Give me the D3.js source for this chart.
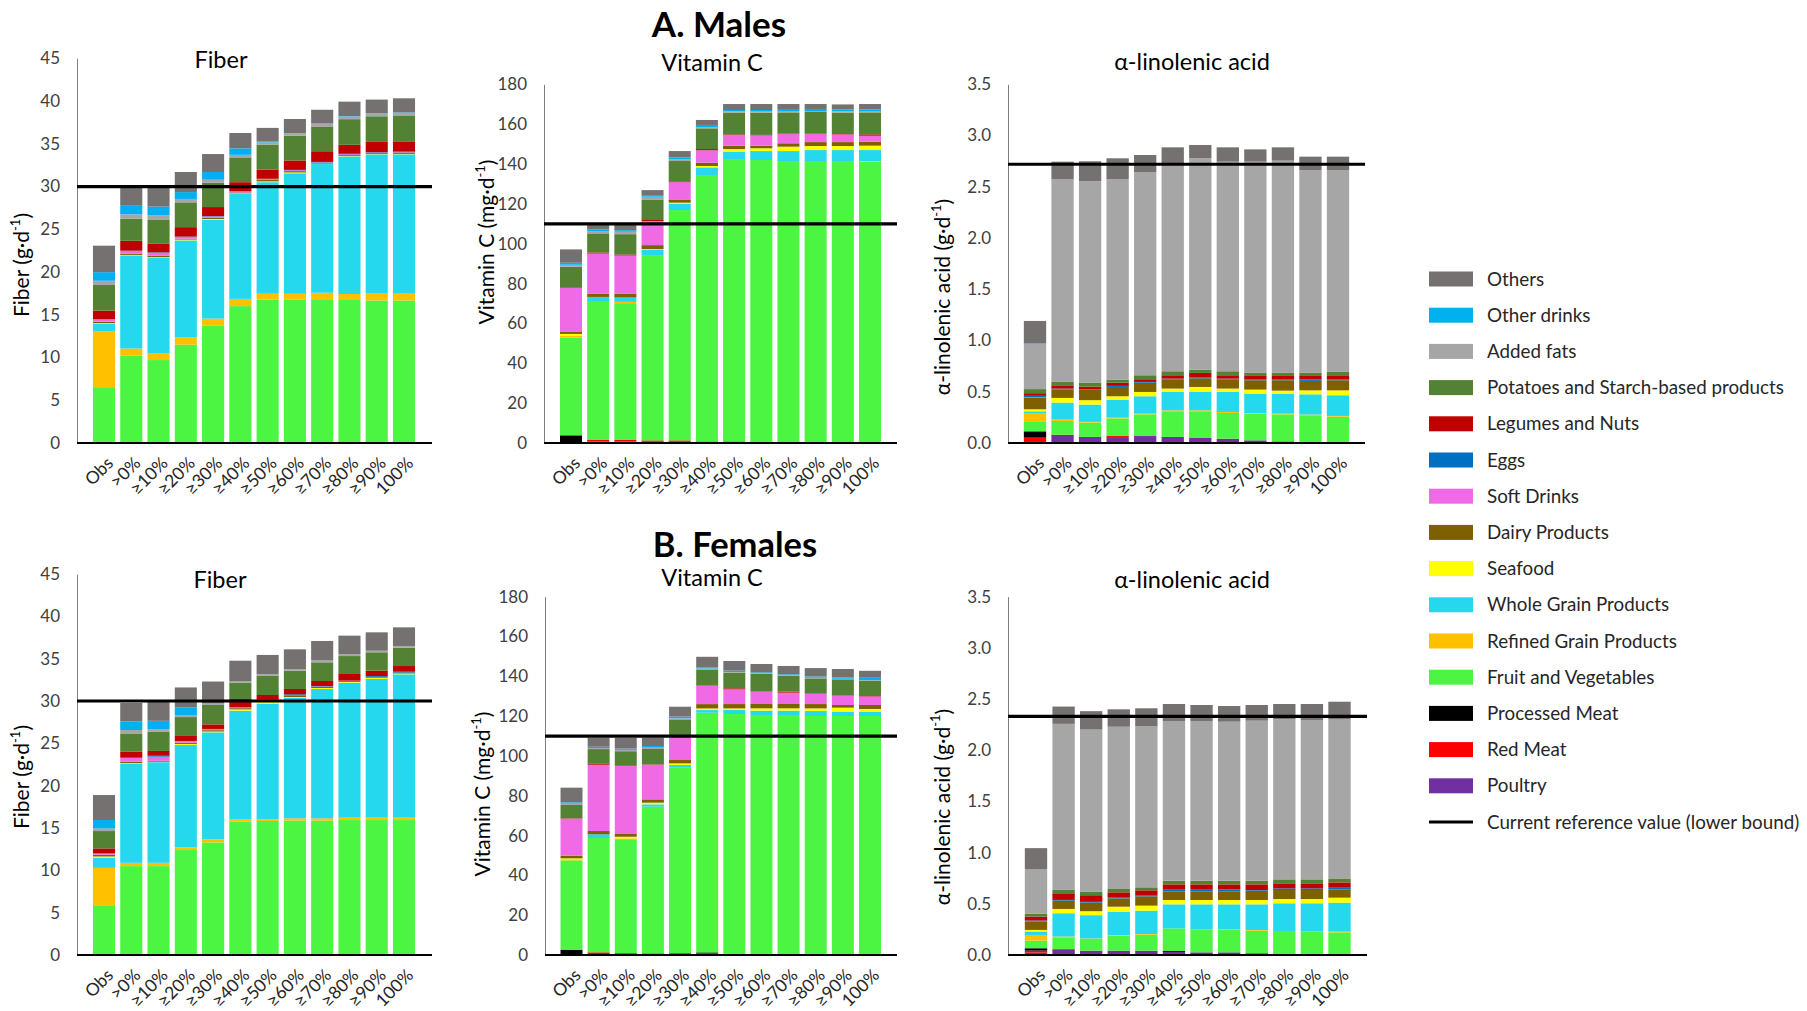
<!DOCTYPE html>
<html>
<head>
<meta charset="utf-8">
<script src="https://cdn.jsdelivr.net/npm/d3@7"></script>
<style>
  html, body { margin: 0; padding: 0; background: #fff; }
  svg { display: block; font-family: Lato, "Open Sans", sans-serif; }
</style>
</head>
<body>
<svg id="chart" width="1807" height="1011"></svg>
<script>
// ---------------- DATA ----------------
const groups = ["Obs", ">0%", "≥10%", "≥20%", "≥30%", "≥40%", "≥50%", "≥60%", "≥70%", "≥80%", "≥90%", "100%"];

// stacking order: bottom -> top
const categories = ["Poultry", "Red Meat", "Processed Meat", "Fruit and Vegetables", "Refined Grain Products",
  "Whole Grain Products", "Seafood", "Dairy Products", "Soft Drinks", "Eggs", "Legumes and Nuts",
  "Potatoes and Starch-based products", "Added fats", "Other drinks", "Others"];

const categoryColors = ["#7030A0", "#FF0000", "#000000", "#4CF542", "#FFC000",
  "#25D8EE", "#FFFF00", "#7F6000", "#F06AE6", "#0070C0", "#C00000",
  "#548235", "#A6A6A6", "#00B0F0", "#767171"];

// legend order (top -> bottom)
const legendOrder = ["Others", "Other drinks", "Added fats", "Potatoes and Starch-based products", "Legumes and Nuts",
  "Eggs", "Soft Drinks", "Dairy Products", "Seafood", "Whole Grain Products", "Refined Grain Products",
  "Fruit and Vegetables", "Processed Meat", "Red Meat", "Poultry"];
const refLegendLabel = "Current reference value (lower bound)";

const fiberTicks = [0, 5, 10, 15, 20, 25, 30, 35, 40, 45];
const vitcTicks = [0, 20, 40, 60, 80, 100, 120, 140, 160, 180];
const alaTicks = [0, 0.5, 1.0, 1.5, 2.0, 2.5, 3.0, 3.5];

const refFiber = 30, refVitC = 110, refAlaMale = 2.72, refAlaFemale = 2.33;

// rows follow `categories`, columns follow `groups`
const maleFiber = [
  [0, 0.03, 0.03, 0.03, 0.03, 0.02, 0.02, 0.02, 0.01, 0.01, 0, 0],
  [0.03, 0.05, 0.05, 0.05, 0.05, 0.03, 0.03, 0.02, 0.02, 0.02, 0.02, 0.02],
  [0.1, 0.02, 0.02, 0.02, 0.02, 0.01, 0.01, 0.01, 0, 0, 0, 0],
  [6.4, 10.1, 9.6, 11.4, 13.6, 15.95, 16.7, 16.7, 16.7, 16.7, 16.65, 16.65],
  [6.55, 0.85, 0.8, 0.85, 0.85, 0.85, 0.7, 0.7, 0.85, 0.7, 0.8, 0.8],
  [0.9, 10.9, 11.2, 11.35, 11.55, 12.3, 13.05, 14.1, 15.05, 16.1, 16.3, 16.3],
  [0.05, 0.05, 0.05, 0.1, 0.1, 0.05, 0.1, 0.1, 0.05, 0.05, 0.05, 0.05],
  [0.15, 0.15, 0.15, 0.1, 0.15, 0.1, 0.15, 0.15, 0.1, 0.1, 0.1, 0.15],
  [0.3, 0.3, 0.35, 0.2, 0.15, 0.1, 0.1, 0.1, 0.05, 0.1, 0.05, 0.05],
  [0, 0.05, 0.05, 0.05, 0.05, 0.05, 0.05, 0.05, 0.05, 0.05, 0.05, 0.1],
  [1.0, 1.15, 1.05, 1.1, 1.05, 1.05, 1.05, 1.1, 1.25, 1.05, 1.2, 1.1],
  [3.0, 2.6, 2.8, 2.9, 2.85, 2.9, 2.95, 2.9, 2.9, 3.0, 3.0, 3.1],
  [0.5, 0.5, 0.5, 0.4, 0.35, 0.3, 0.25, 0.25, 0.3, 0.3, 0.3, 0.3],
  [1.0, 1.0, 1.0, 0.8, 0.9, 0.75, 0.1, 0.05, 0.05, 0.05, 0.05, 0.05],
  [3.1, 2.15, 2.25, 2.35, 2.1, 1.8, 1.6, 1.65, 1.6, 1.7, 1.6, 1.65]
];

const maleVitC = [
  [0, 0.8, 0.8, 0.6, 0.6, 0.4, 0.2, 0, 0, 0, 0, 0],
  [0, 0.9, 0.9, 0.7, 0.7, 0.4, 0.6, 0, 0, 0, 0, 0],
  [3.85, 0, 0, 0, 0, 0, 0, 0, 0, 0, 0, 0],
  [49.1, 69.1, 68.5, 93.0, 115.6, 133.7, 141.7, 142.0, 141.5, 141.5, 141.5, 141.2],
  [0.8, 0, 0.6, 0, 0, 0, 0, 0, 0, 0, 0, 0.3],
  [0, 2.5, 2.2, 2.7, 3.2, 3.8, 3.7, 4.5, 5.0, 5.5, 5.5, 5.5],
  [1.0, 0, 0, 0.3, 0.5, 0.7, 1.3, 1.4, 2.2, 2.0, 2.0, 2.2],
  [1.2, 1.7, 2.0, 2.0, 1.6, 1.7, 1.7, 1.3, 1.7, 2.0, 2.0, 2.0],
  [22.0, 20.1, 19.1, 12.1, 8.7, 6.2, 5.4, 5.2, 4.6, 4.0, 3.8, 3.0],
  [0, 0, 0, 0, 0, 0, 0, 0, 0, 0, 0, 0],
  [0.3, 0.5, 0.5, 0.5, 0.4, 0.6, 0.3, 0.2, 0.2, 0.2, 0.2, 0.7],
  [10.2, 9.6, 10.2, 10.3, 10.2, 10.4, 10.9, 11.2, 10.7, 10.9, 10.8, 11.0],
  [1.0, 1.1, 1.2, 1.4, 0.8, 0.5, 0.6, 0.8, 0.7, 0.5, 0.6, 0.7],
  [1.0, 0.9, 0.8, 0.8, 1.0, 1.2, 0.7, 0.5, 1.0, 1.0, 1.0, 0.8],
  [6.7, 2.3, 2.7, 2.5, 3.2, 2.5, 3.0, 3.0, 2.5, 2.5, 2.5, 2.7]
];

const maleAla = [
  [0.01, 0.068, 0.059, 0.058, 0.068, 0.059, 0.049, 0.042, 0.026, 0.016, 0, 0],
  [0.042, 0.013, 0, 0.01, 0, 0, 0, 0, 0, 0, 0, 0],
  [0.062, 0, 0, 0, 0, 0, 0, 0, 0, 0, 0, 0],
  [0.098, 0.134, 0.14, 0.172, 0.212, 0.244, 0.254, 0.251, 0.26, 0.264, 0.264, 0.257],
  [0.075, 0.013, 0.007, 0.007, 0.007, 0.016, 0.016, 0.01, 0.007, 0.007, 0.013, 0.007],
  [0.022, 0.166, 0.169, 0.176, 0.169, 0.179, 0.179, 0.195, 0.189, 0.195, 0.198, 0.202],
  [0.02, 0.046, 0.043, 0.033, 0.042, 0.033, 0.049, 0.033, 0.039, 0.029, 0.039, 0.048],
  [0.11, 0.081, 0.1, 0.091, 0.09, 0.087, 0.084, 0.087, 0.091, 0.101, 0.092, 0.098],
  [0.005, 0, 0, 0, 0, 0, 0, 0, 0, 0, 0, 0],
  [0.016, 0.01, 0.007, 0.01, 0.008, 0.01, 0.007, 0.01, 0.007, 0.007, 0.013, 0.007],
  [0.026, 0.032, 0.026, 0.032, 0.026, 0.033, 0.046, 0.033, 0.035, 0.035, 0.035, 0.035],
  [0.04, 0.033, 0.039, 0.03, 0.039, 0.039, 0.032, 0.039, 0.03, 0.03, 0.03, 0.04],
  [0.44, 1.976, 1.964, 1.957, 1.98, 2.03, 2.062, 2.045, 2.061, 2.071, 1.98, 1.97],
  [0.005, 0, 0, 0, 0, 0, 0, 0, 0, 0, 0, 0],
  [0.22, 0.173, 0.195, 0.202, 0.169, 0.155, 0.13, 0.14, 0.12, 0.13, 0.13, 0.13]
];

const femaleFiber = [
  [0, 0.03, 0.02, 0.02, 0.02, 0.02, 0.02, 0.02, 0.01, 0.01, 0, 0],
  [0.05, 0.07, 0.03, 0.03, 0.03, 0.02, 0.02, 0.02, 0.02, 0.01, 0.01, 0.01],
  [0.05, 0, 0, 0, 0, 0, 0, 0, 0, 0, 0, 0],
  [5.69, 10.4, 10.45, 12.35, 13.25, 15.71, 15.79, 15.83, 15.84, 15.92, 15.93, 15.93],
  [4.5, 0.39, 0.39, 0.32, 0.36, 0.27, 0.2, 0.27, 0.27, 0.28, 0.28, 0.28],
  [1.2, 11.74, 11.89, 12.08, 12.64, 12.84, 13.63, 14.25, 15.28, 15.95, 16.38, 16.93],
  [0.15, 0.05, 0.05, 0.13, 0.1, 0.15, 0.25, 0.08, 0.12, 0.08, 0.15, 0.1],
  [0.2, 0.14, 0.1, 0.15, 0.15, 0.14, 0.2, 0.12, 0.13, 0.1, 0.1, 0.11],
  [0.15, 0.48, 0.5, 0.2, 0.15, 0.1, 0, 0.04, 0.05, 0.05, 0, 0],
  [0, 0, 0.1, 0, 0, 0, 0.1, 0.16, 0.05, 0, 0.1, 0.1],
  [0.6, 0.7, 0.57, 0.59, 0.54, 0.99, 0.5, 0.63, 0.59, 0.79, 0.63, 0.67],
  [2.05, 2.17, 2.26, 2.23, 2.29, 1.93, 2.25, 2.16, 2.21, 2.12, 2.17, 2.17],
  [0.3, 0.4, 0.3, 0.25, 0.17, 0.19, 0.2, 0.2, 0.27, 0.2, 0.19, 0.2],
  [1.0, 1.0, 1.0, 0.9, 0, 0, 0, 0, 0, 0, 0, 0],
  [2.95, 2.2, 2.34, 2.35, 2.6, 2.4, 2.28, 2.32, 2.25, 2.21, 2.17, 2.2]
];

const femaleVitC = [
  [0, 0.5, 0.3, 0, 0, 0.8, 0, 0.5, 0, 0, 0, 0],
  [0, 0.84, 0, 0.84, 0, 0, 0.3, 0, 0, 0, 0, 0],
  [2.51, 0, 0.54, 0, 0.84, 0.5, 0, 0, 0, 0, 0, 0],
  [45.05, 57.43, 56.93, 73.67, 93.26, 120.4, 120.76, 120.06, 120.56, 120.06, 120.06, 120.06],
  [0.5, 0, 0.8, 0, 0, 0, 0, 0, 0, 0, 0, 0],
  [0, 1.84, 0, 1.17, 1.34, 1.34, 2.0, 2.2, 2.2, 2.5, 2.2, 2.2],
  [0.5, 0, 0.84, 0.84, 0.84, 0.84, 0.84, 1.17, 1.17, 1.34, 2.0, 1.34],
  [1.34, 1.67, 1.67, 1.67, 1.67, 2.17, 2.17, 2.17, 2.17, 2.17, 1.34, 2.0],
  [18.55, 33.3, 34.0, 17.4, 11.5, 9.2, 7.4, 6.3, 5.7, 5.1, 4.6, 4.3],
  [0, 0, 0, 0, 0, 0, 0, 0, 0, 0, 0, 0],
  [0.2, 0.67, 0.3, 0.2, 0.2, 0.2, 0.5, 0.2, 0.5, 0.2, 0.2, 0.2],
  [6.7, 7.2, 7.0, 7.7, 8.4, 8.0, 7.9, 8.6, 7.9, 7.6, 8.1, 7.7],
  [0.67, 0.5, 0.67, 0.67, 0.84, 0.5, 0.3, 0.3, 0.3, 0.3, 0.3, 0.3],
  [0.67, 0.67, 0.67, 0.84, 0.84, 0.5, 0.67, 0.5, 0.5, 0.67, 0.67, 1.17],
  [7.37, 4.55, 5.4, 4.2, 5.0, 5.36, 4.86, 4.2, 4.2, 4.2, 4.2, 3.5]
];

const femaleAla = [
  [0.023, 0.052, 0.042, 0.042, 0.042, 0.03, 0.026, 0.026, 0, 0, 0, 0],
  [0.02, 0.007, 0, 0, 0, 0, 0, 0, 0, 0, 0, 0],
  [0.023, 0, 0, 0, 0, 0.009, 0, 0, 0.016, 0, 0, 0],
  [0.075, 0.114, 0.114, 0.146, 0.156, 0.221, 0.225, 0.218, 0.221, 0.234, 0.228, 0.221],
  [0.055, 0.007, 0.005, 0.007, 0.007, 0, 0, 0.007, 0.007, 0, 0, 0.007],
  [0.033, 0.228, 0.228, 0.228, 0.228, 0.235, 0.244, 0.244, 0.251, 0.271, 0.277, 0.283],
  [0.016, 0.042, 0.039, 0.049, 0.049, 0.042, 0.042, 0.042, 0.042, 0.042, 0.042, 0.049],
  [0.082, 0.081, 0.084, 0.081, 0.091, 0.082, 0.082, 0.085, 0.091, 0.088, 0.088, 0.081],
  [0, 0, 0, 0, 0, 0, 0, 0, 0, 0, 0, 0],
  [0.01, 0.007, 0.007, 0.007, 0.007, 0.019, 0.019, 0.019, 0.007, 0.016, 0.016, 0.016],
  [0.039, 0.065, 0.065, 0.052, 0.052, 0.052, 0.052, 0.049, 0.055, 0.049, 0.049, 0.052],
  [0.026, 0.033, 0.033, 0.033, 0.029, 0.036, 0.036, 0.036, 0.036, 0.039, 0.039, 0.039],
  [0.437, 1.622, 1.585, 1.585, 1.576, 1.56, 1.56, 1.553, 1.563, 1.563, 1.557, 1.553],
  [0, 0, 0, 0, 0, 0, 0, 0, 0, 0, 0, 0],
  [0.205, 0.169, 0.18, 0.17, 0.173, 0.166, 0.156, 0.153, 0.153, 0.15, 0.156, 0.173]
];

// ---------------- LAYOUT ----------------
const panels = [
  { data: maleFiber, title: "Fiber", label: "Fiber (g·d", ticks: fiberTicks, fmt: d3.format("d"), ref: refFiber,
    ax: 77, axEnd: 432, y0: 443, yTop: 58.3, c0: 104, c1: 404, tx: 221, ty: 67.5, lx: 22, ly: 265 },
  { data: maleVitC, title: "Vitamin C", label: "Vitamin C (mg·d", ticks: vitcTicks, fmt: d3.format("d"), ref: refVitC,
    ax: 544, axEnd: 897, y0: 443, yTop: 84.3, c0: 571, c1: 870, tx: 712, ty: 70.5, lx: 487, ly: 242 },
  { data: maleAla, title: "α-linolenic acid", label: "α-linolenic acid (g·d", ticks: alaTicks, fmt: d3.format(".1f"), ref: refAlaMale,
    ax: 1008, axEnd: 1365, y0: 443, yTop: 84.3, c0: 1035, c1: 1338, tx: 1192, ty: 70, lx: 943, ly: 297 },
  { data: femaleFiber, title: "Fiber", label: "Fiber (g·d", ticks: fiberTicks, fmt: d3.format("d"), ref: refFiber,
    ax: 77, axEnd: 432, y0: 955, yTop: 574, c0: 104, c1: 404, tx: 220, ty: 588, lx: 22, ly: 777 },
  { data: femaleVitC, title: "Vitamin C", label: "Vitamin C (mg·d", ticks: vitcTicks, fmt: d3.format("d"), ref: refVitC,
    ax: 545, axEnd: 897, y0: 955, yTop: 596.7, c0: 571.5, c1: 870, tx: 712, ty: 586, lx: 483, ly: 794 },
  { data: femaleAla, title: "α-linolenic acid", label: "α-linolenic acid (g·d", ticks: alaTicks, fmt: d3.format(".1f"), ref: refAlaFemale,
    ax: 1008, axEnd: 1367, y0: 955, yTop: 596.7, c0: 1036, c1: 1339.5, tx: 1192, ty: 588, lx: 942.5, ly: 807 }
];

const svg = d3.select("#chart");
const color = d3.scaleOrdinal().domain(categories).range(categoryColors);

// section titles
svg.append("text").attr("x", 719).attr("y", 37).attr("text-anchor", "middle")
  .attr("font-size", 35).attr("font-weight", 700).attr("fill", "#000").text("A. Males");
svg.append("text").attr("x", 735).attr("y", 557).attr("text-anchor", "middle")
  .attr("font-size", 34.5).attr("font-weight", 700).attr("fill", "#000").text("B. Females");

panels.forEach(p => {
  const g = svg.append("g");
  const step = (p.c1 - p.c0) / (groups.length - 1);
  const x = d3.scaleBand().domain(groups)
    .range([p.c0 - step / 2, p.c1 + step / 2])
    .paddingInner(0.19).paddingOuter(0.095);
  const yMax = p.ticks[p.ticks.length - 1];
  const y = d3.scaleLinear().domain([0, yMax]).range([p.y0, p.yTop]);

  const rows = groups.map((grp, j) => {
    const o = { group: grp };
    categories.forEach((c, i) => { o[c] = p.data[i][j]; });
    return o;
  });
  const series = d3.stack().keys(categories)(rows);

  // y axis
  const yAxis = d3.axisLeft(y).tickValues(p.ticks).tickFormat(p.fmt).tickSize(0).tickPadding(17).tickSizeOuter(0);
  const ya = g.append("g").attr("transform", `translate(${p.ax},0)`).call(yAxis);
  ya.select(".domain").attr("stroke", "#7f7f7f").attr("stroke-width", 1);
  ya.selectAll(".tick text").attr("font-size", 17).attr("fill", "#404040")
    .attr("font-family", "Lato, sans-serif");

  // bars
  g.append("g").selectAll("g").data(series).join("g")
    .attr("fill", d => color(d.key))
    .selectAll("rect").data(d => d).join("rect")
    .attr("x", d => x(d.data.group))
    .attr("width", x.bandwidth())
    .attr("y", d => y(d[1]))
    .attr("height", d => Math.max(0, y(d[0]) - y(d[1])));

  // x axis
  const xAxis = d3.axisBottom(x).tickSize(0).tickPadding(0);
  const xa = g.append("g").attr("transform", `translate(0,${p.y0})`).call(xAxis);
  xa.select(".domain").remove();
  xa.selectAll(".tick text")
    .attr("font-size", 17.5).attr("fill", "#262626").attr("font-family", "Lato, sans-serif")
    .attr("text-anchor", "end")
    .attr("dy", "0.35em")
    .attr("transform", "translate(6,17) rotate(-45)");
  g.append("line").attr("x1", p.ax).attr("x2", p.axEnd).attr("y1", p.y0).attr("y2", p.y0)
    .attr("stroke", "#000").attr("stroke-width", 1.8);

  // reference line
  g.append("line").attr("x1", p.ax).attr("x2", p.axEnd).attr("y1", y(p.ref)).attr("y2", y(p.ref))
    .attr("stroke", "#000").attr("stroke-width", 3.2);

  // title
  g.append("text").attr("x", p.tx).attr("y", p.ty).attr("text-anchor", "middle")
    .attr("font-size", 23.5).attr("fill", "#000").text(p.title);

  // y label
  const lab = g.append("text")
    .attr("transform", `translate(${p.lx},${p.ly}) rotate(-90)`)
    .attr("text-anchor", "middle").attr("dy", "0.35em")
    .attr("font-size", 21).attr("fill", "#000");
  lab.append("tspan").text(p.label);
  lab.append("tspan").attr("font-size", 13).attr("dy", "-0.75em").text("-1");
  lab.append("tspan").attr("dy", "0.5em").text(")");
});

// legend
const legend = svg.append("g");
const legendY0 = 279, legendStep = 36.2;
legendOrder.forEach((name, i) => {
  const cy = legendY0 + i * legendStep;
  legend.append("rect").attr("x", 1429).attr("y", cy - 7.5).attr("width", 44).attr("height", 15)
    .attr("fill", color(name));
  legend.append("text").attr("x", 1487).attr("y", cy).attr("dy", "0.35em")
    .attr("font-size", 18.8).attr("fill", "#262626").text(name);
});
{
  const cy = legendY0 + legendOrder.length * legendStep;
  legend.append("line").attr("x1", 1429).attr("x2", 1473).attr("y1", cy).attr("y2", cy)
    .attr("stroke", "#000").attr("stroke-width", 3);
  legend.append("text").attr("x", 1487).attr("y", cy).attr("dy", "0.35em")
    .attr("font-size", 18.8).attr("fill", "#262626").text(refLegendLabel);
}
</script>
</body>
</html>
